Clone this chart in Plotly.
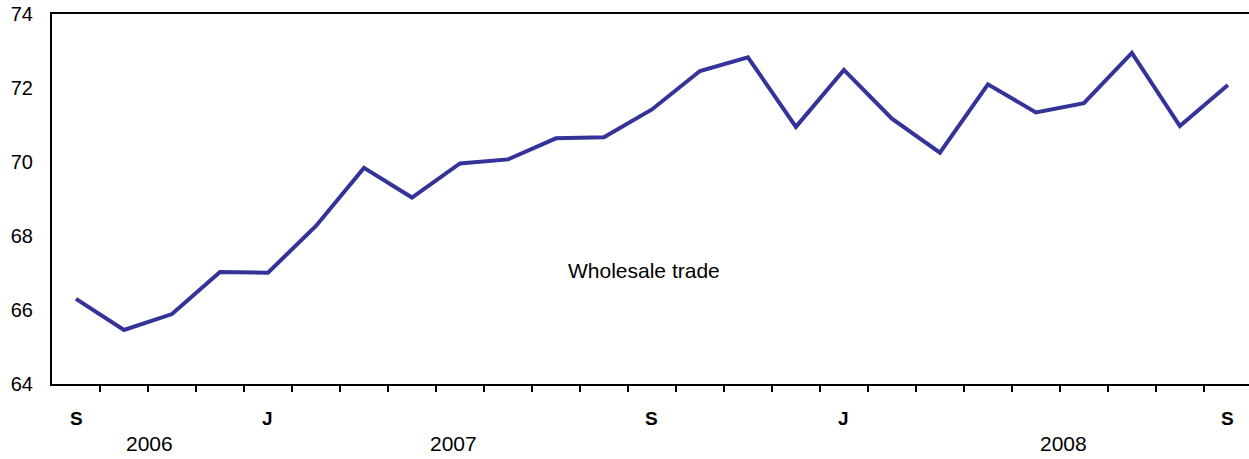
import plotly.graph_objects as go

# Monthly data, Sep 2006 .. Sep 2008
months = ["2006-09", "2006-10", "2006-11", "2006-12",
          "2007-01", "2007-02", "2007-03", "2007-04", "2007-05", "2007-06",
          "2007-07", "2007-08", "2007-09", "2007-10", "2007-11", "2007-12",
          "2008-01", "2008-02", "2008-03", "2008-04", "2008-05", "2008-06",
          "2008-07", "2008-08", "2008-09"]
wholesale = [66.30, 65.46, 65.89, 67.03, 67.01, 68.27, 69.84, 69.04, 69.96, 70.07,
             70.64, 70.67, 71.42, 72.46, 72.83, 70.95, 72.49, 71.17, 70.25, 72.10,
             71.34, 71.59, 72.95, 70.97, 72.08]

month_labels = {0: "S", 4: "J", 12: "S", 16: "J", 24: "S"}
year_labels = [("2006", 1.54), ("2007", 7.86), ("2008", 20.57)]
y_ticks = [64, 66, 68, 70, 72, 74]
series_label = "Wholesale trade"

idx = list(range(len(months)))

FONT = "Liberation Sans, Arial, Helvetica, sans-serif"

fig = go.Figure()
fig.add_trace(go.Scatter(
    x=idx, y=wholesale, mode="lines",
    line=dict(color="#333399", width=4),
    hoverinfo="skip", showlegend=False,
))

annotations = []
for i, t in month_labels.items():
    annotations.append(dict(x=i, y=-0.092, xref="x", yref="paper", text="<b>%s</b>" % t,
                            showarrow=False, xanchor="center", yanchor="middle",
                            font=dict(family=FONT, size=19, color="#000")))
for t, xpos in year_labels:
    annotations.append(dict(x=xpos, y=-0.162, xref="x", yref="paper", text=t,
                            showarrow=False, xanchor="center", yanchor="middle",
                            font=dict(family=FONT, size=21, color="#000")))
annotations.append(dict(x=11.83, y=67.08, xref="x", yref="y", text=series_label,
                        showarrow=False, xanchor="center", yanchor="middle",
                        font=dict(family=FONT, size=21, color="#000")))

fig.update_layout(
    width=1249, height=459,
    margin=dict(l=52, r=0, t=14, b=75),
    paper_bgcolor="white", plot_bgcolor="white",
    font=dict(family=FONT, size=20, color="#000"),
    annotations=annotations,
    xaxis=dict(
        range=[-0.5, 24.44],
        tickvals=[k + 0.5 for k in range(24)],
        ticktext=[""] * 24,
        ticks="outside", ticklen=6, tickwidth=2, tickcolor="#000",
        showline=True, linecolor="#000", linewidth=2, mirror=True,
        showgrid=False, zeroline=False, fixedrange=True,
    ),
    yaxis=dict(
        range=[64, 74],
        tickvals=y_ticks,
        ticks="", ticklabelstandoff=13,
        showline=True, linecolor="#000", linewidth=2,
        showgrid=False, zeroline=False, fixedrange=True,
        tickfont=dict(family=FONT, size=20, color="#000"),
    ),
)

fig.write_html(
    "out.html",
    config={"displayModeBar": False},
    post_script="document.body.style.margin='0';document.body.style.overflow='hidden';",
)
